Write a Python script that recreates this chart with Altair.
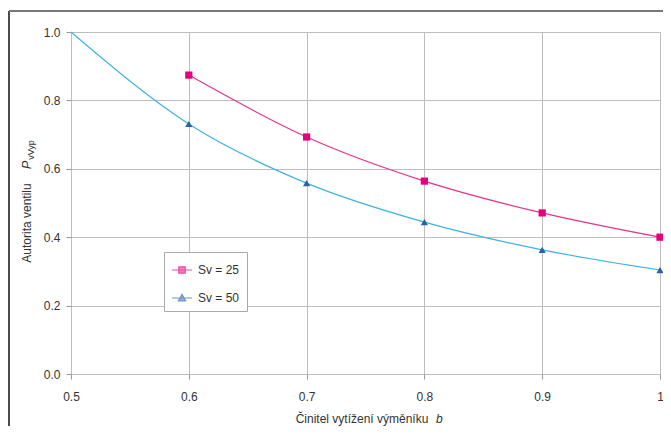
import altair as alt
import pandas as pd

# ---- data ----
b_values = [0.5, 0.6, 0.7, 0.8, 0.9, 1.0]
sv25 = [None, 0.874, 0.693, 0.564, 0.471, 0.400]
sv50 = [1.0, 0.731, 0.558, 0.444, 0.363, 0.304]
series_names = ["Sv = 25", "Sv = 50"]
marker_min_b = 0.6  # markers drawn only at measured points

y_ticks = [0.0, 0.2, 0.4, 0.6, 0.8, 1.0]
x_ticks = [0.5, 0.6, 0.7, 0.8, 0.9, 1.0]

y_title_main = "Autorita ventilu"
y_title_sym = "P"
y_title_sub = "vVyp"
x_title_main = "Činitel vytížení výměníku"
x_title_sym = "b"

# colours
line_colors = ["#e8318a", "#3db3e3"]
marker_colors = ["#e6007e", "#2d5ea8"]
legend_colors = ["#e6007e", "#2f62b4"]

rows = []
for bv, a, c in zip(b_values, sv25, sv50):
    if a is not None:
        rows.append({"b": bv, "P": a, "series": series_names[0]})
    rows.append({"b": bv, "P": c, "series": series_names[1]})
df = pd.DataFrame(rows)

FONT = "Liberation Sans"

x_enc = alt.X("b:Q", scale=alt.Scale(domain=[0.5, 1.0], nice=False),
              axis=alt.Axis(values=x_ticks, format=".1~f", title=None,
                            grid=True, tickSize=5, labelPadding=12,
                            labelFlush=False, domain=False))
y_enc = alt.Y("P:Q", scale=alt.Scale(domain=[0, 1.0], nice=False),
              axis=alt.Axis(values=y_ticks, format=".1f", title=None,
                            grid=True, tickSize=5, labelPadding=6,
                            labelFlush=False, domain=False))

base = alt.Chart(df)

lines = base.mark_line(interpolate="monotone", strokeWidth=1.2).encode(
    x=x_enc, y=y_enc,
    color=alt.Color("series:N", scale=alt.Scale(domain=series_names, range=line_colors), legend=None),
)

points = base.transform_filter(alt.datum.b >= marker_min_b).mark_point(
    filled=True, opacity=1, size=52
).encode(
    x="b:Q", y="P:Q",
    color=alt.Color("series:N", scale=alt.Scale(domain=series_names, range=marker_colors), legend=None),
    shape=alt.Shape("series:N", scale=alt.Scale(domain=series_names, range=["square", "triangle-up"]), legend=None),
)

legend_paths = [
    "M-1,0H1M-0.32,-0.32H0.32V0.32H-0.32Z",
    "M-1,0H1M0,-0.36L0.36,0.28H-0.36Z",
]
legend_layer = base.transform_filter(alt.datum.b >= marker_min_b).mark_point(
    filled=True, size=0, strokeWidth=1.2
).encode(
    x="b:Q", y="P:Q",
    fill=alt.Fill("series:N", scale=alt.Scale(domain=series_names, range=legend_colors),
                  legend=alt.Legend(title=None, orient="none", legendX=93, legendY=220,
                                    symbolSize=400, symbolOpacity=1, symbolStrokeWidth=1.2,
                                    labelFont=FONT, labelFontSize=12, labelColor="#333",
                                    labelOffset=5, rowPadding=11, padding=7,
                                    strokeColor="#aaaaaa", fillColor="white",
                                    cornerRadius=0)),
    stroke=alt.Stroke("series:N", scale=alt.Scale(domain=series_names, range=legend_colors)),
    shape=alt.Shape("series:N", scale=alt.Scale(domain=series_names, range=legend_paths)),
)

one = alt.Data(values=[{}])
y_t1 = alt.Chart(one).mark_text(angle=270, font=FONT, fontSize=12, color="#333",
                                align="center", baseline="middle").encode(
    x=alt.value(-44), y=alt.value(191), text=alt.value(y_title_main))
y_t2 = alt.Chart(one).mark_text(angle=270, font=FONT, fontSize=13, fontStyle="italic", color="#333",
                                align="center", baseline="middle").encode(
    x=alt.value(-44), y=alt.value(133), text=alt.value(y_title_sym))
y_t3 = alt.Chart(one).mark_text(angle=270, font=FONT, fontSize=9, color="#333",
                                align="center", baseline="middle").encode(
    x=alt.value(-40), y=alt.value(118), text=alt.value(y_title_sub))
x_t1 = alt.Chart(one).mark_text(font=FONT, fontSize=12, color="#333",
                                align="center", baseline="middle").encode(
    x=alt.value(291), y=alt.value(387), text=alt.value(x_title_main))
x_t2 = alt.Chart(one).mark_text(font=FONT, fontSize=12, fontStyle="italic", color="#333",
                                align="left", baseline="middle").encode(
    x=alt.value(365), y=alt.value(387), text=alt.value(x_title_sym))

frame_left = alt.Chart(one).mark_rule(color="#111", strokeWidth=1.5).encode(
    x=alt.value(-62), y=alt.value(-21), y2=alt.value(500))
frame_top = alt.Chart(one).mark_rule(color="#777", strokeWidth=2).encode(
    y=alt.value(-21), x=alt.value(-62), x2=alt.value(700))

chart = alt.layer(
    frame_left, frame_top, lines, points, legend_layer,
    y_t1, y_t2, y_t3, x_t1, x_t2,
).resolve_scale(
    color="independent", shape="independent", fill="independent", stroke="independent"
).properties(
    width=589, height=342,
    autosize=alt.AutoSizeParams(type="none"),
    padding={"left": 63, "top": 24, "right": 3, "bottom": 52},
).configure_view(stroke=None).configure_axis(
    gridColor="#bdbdbd", gridWidth=1, tickColor="#999", labelFont=FONT,
    labelFontSize=12, labelColor="#333",
)

chart.save("out.html", embed_options={"renderer": "svg", "actions": False})
